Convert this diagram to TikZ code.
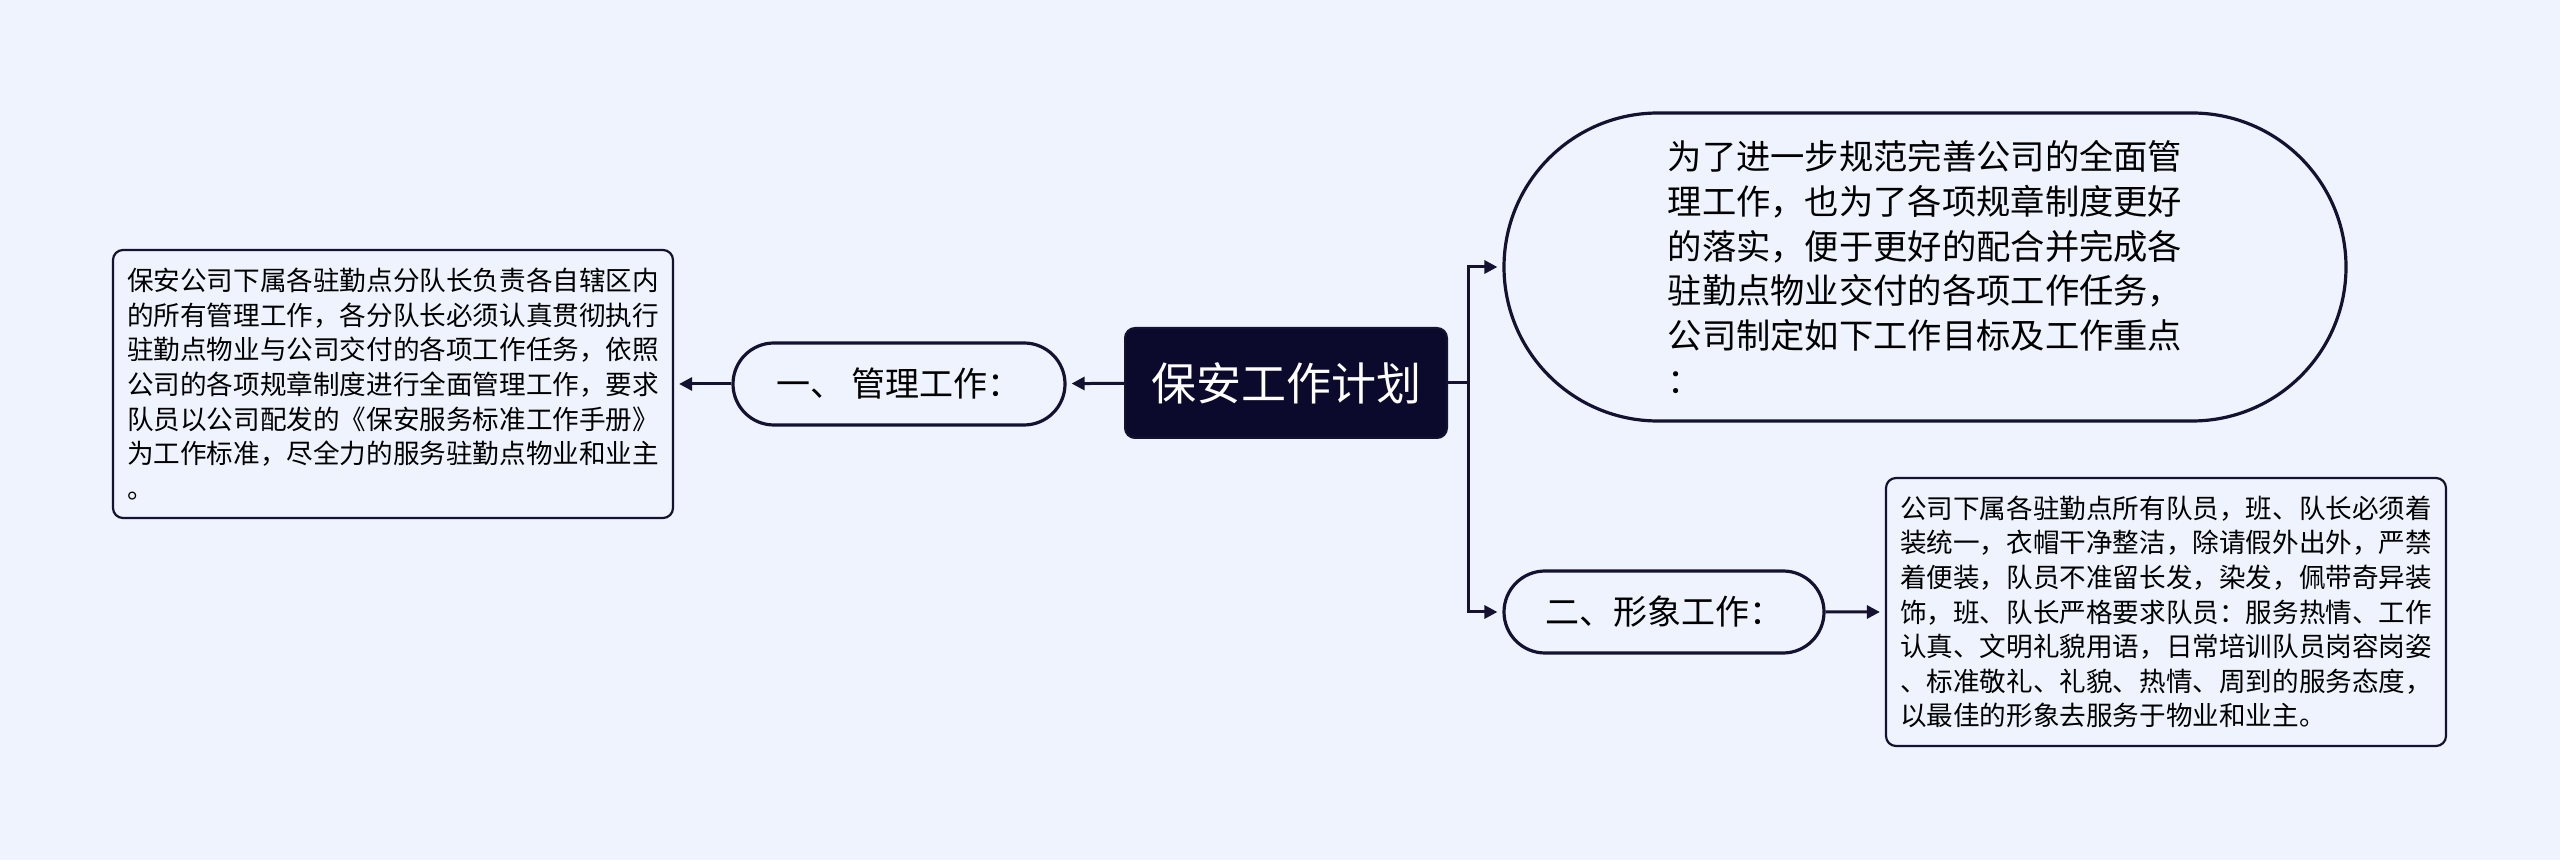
\documentclass[tikz,border=0pt]{standalone}
\usepackage{fontspec}
\setmainfont{Noto Sans CJK SC}
\usepackage{tikz}
\usetikzlibrary{arrows.meta,shapes.misc}
\definecolor{bapage}{RGB}{238,243,254}
\definecolor{baline}{RGB}{20,18,48}
\definecolor{baroot}{RGB}{12,10,44}

\begin{document}
\begin{tikzpicture}[x=1pt,y=1pt,
  rootbox/.style={draw=baline,fill=baroot,text=white,rounded corners=10pt,line width=2pt,
    minimum width=322pt,minimum height=110pt,inner sep=0pt,font=\fontsize{45}{54}\selectfont},
  pill/.style={draw=baline,rounded rectangle,line width=3.2pt,minimum height=82pt,
    inner sep=0pt,font=\fontsize{34}{44}\selectfont},
  note/.style={draw=baline,rounded corners=10pt,line width=2.2pt,align=left,inner sep=0pt,
    minimum width=560pt,minimum height=268pt,font=\fontsize{26.6}{34.6}\selectfont},
  link/.style={baline,line width=3pt,shorten >=5pt,-{Triangle[length=13pt,width=13pt]}}]
  \useasboundingbox (0,0) rectangle (2560,860);
  \fill[bapage] (0,0) rectangle (2560,860);
  \node[rootbox] (plan) at (1286,477) {保安工作计划};
  \node[pill,minimum width=332pt] (mgmt) at (899,476) {一、 管理工作：};
  \node[note] (mgmtnote) at (393,476) {保安公司下属各驻勤点分队长负责各自辖区内\\的所有管理工作，各分队长必须认真贯彻执行\\驻勤点物业与公司交付的各项工作任务，依照\\公司的各项规章制度进行全面管理工作，要求\\队员以公司配发的《保安服务标准工作手册》\\为工作标准，尽全力的服务驻勤点物业和业主\\。};
  \node[pill,minimum width=842pt,minimum height=308pt,align=left,
    font=\fontsize{34.3}{44.8}\selectfont] (goal) at (1925,593)
    {为了进一步规范完善公司的全面管\\理工作，也为了各项规章制度更好\\的落实，便于更好的配合并完成各\\驻勤点物业交付的各项工作任务，\\公司制定如下工作目标及工作重点\\：};
  \node[pill,minimum width=320pt] (image) at (1664,248) {二、形象工作：};
  \node[note] (imagenote) at (2166,248) {公司下属各驻勤点所有队员，班、队长必须着\\装统一，衣帽干净整洁，除请假外出外，严禁\\着便装，队员不准留长发，染发，佩带奇异装\\饰，班、队长严格要求队员：服务热情、工作\\认真、文明礼貌用语，日常培训队员岗容岗姿\\、标准敬礼、礼貌、热情、周到的服务态度，\\以最佳的形象去服务于物业和业主。};
  \draw[link] (plan) -- (mgmt);
  \draw[link] (mgmt) -- (mgmtnote);
  \draw[baline,line width=3pt] (plan.east) -- ++(20,0) coordinate (fork);
  \draw[link] (fork) |- (goal.west);
  \draw[link] (fork) |- (image.west);
  \draw[link] (image) -- (imagenote);
\end{tikzpicture}
\end{document}
